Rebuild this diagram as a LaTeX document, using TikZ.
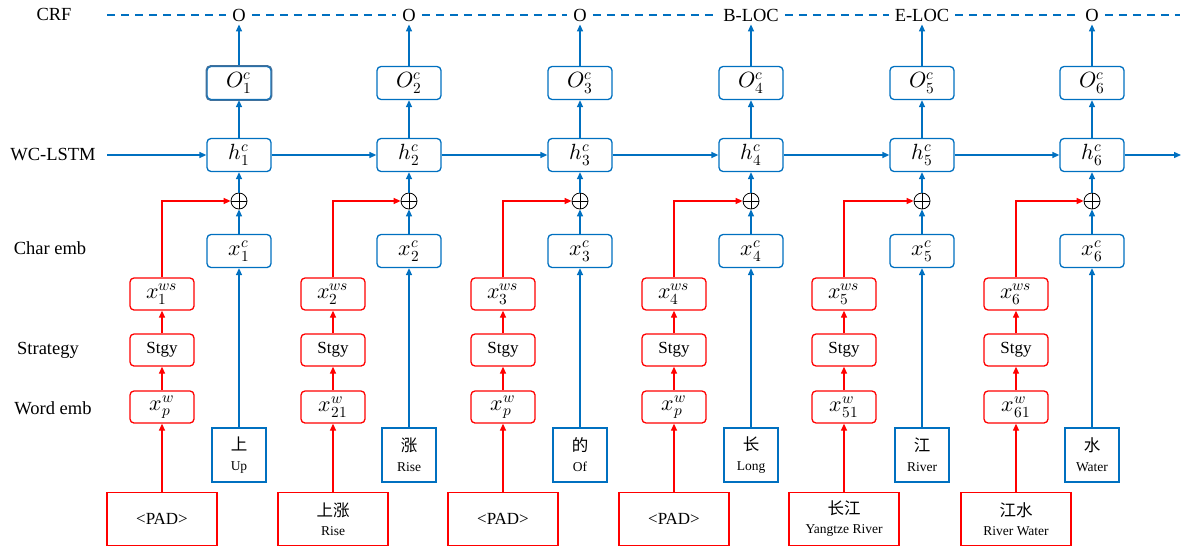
\documentclass[tikz,border=0pt]{standalone}
\usepackage{fontspec}
\usepackage{unicode-math}
\setmainfont{Liberation Serif}
\setmathfont{Latin Modern Math}
\newfontfamily\cjkfont{Noto Sans CJK SC}
\usetikzlibrary{arrows.meta}
\definecolor{cblue}{HTML}{0070C0}
\definecolor{cred}{HTML}{FF0000}
\definecolor{cgb}{HTML}{41719C}
\newcommand{\mfont}{\fontsize{22}{22}\selectfont}
\newcommand{\lfont}{\fontsize{18.5}{20}\selectfont}
\newcommand{\bfnt}{\fontsize{17}{20}\selectfont}
\newcommand{\sfnt}{\fontsize{13.5}{16}\selectfont}
\newcommand{\cfnt}{\cjkfont\fontsize{16.5}{20}\selectfont}
\begin{document}
\begin{tikzpicture}[x=1pt,y=-1pt,
  bbox/.style={draw=cblue, line width=1.3pt, rounded corners=4pt, minimum width=64pt, minimum height=33pt, inner sep=0pt, font=\mfont},
  rbox/.style={draw=cred, line width=1.3pt, rounded corners=4pt, minimum width=64pt, minimum height=32pt, inner sep=0pt, font=\mfont},
  chbox/.style={draw=cblue, line width=1.3pt, minimum width=54pt, minimum height=54pt, inner sep=0pt, align=center, font=\fontsize{13.5}{20}\selectfont},
  padbox/.style={draw=cred, line width=1.3pt, minimum width=110pt, minimum height=53pt, inner sep=0pt, align=center, font=\fontsize{13.5}{19}\selectfont},
  barr/.style={draw=cblue, line width=1.3pt, -{Triangle[length=7pt,width=6pt]}},
  rarr/.style={draw=cred, line width=1.3pt, -{Triangle[length=7pt,width=6pt]}},
  lab/.style={font=\lfont, inner sep=0pt},
  crflab/.style={font=\lfont, inner xsep=6pt, inner ysep=3pt},
  opl/.style={circle, draw=black, line width=0.8pt, minimum size=16pt, inner sep=0pt,
    path picture={\draw[line width=0.8pt] (path picture bounding box.north) -- (path picture bounding box.south)
      (path picture bounding box.west) -- (path picture bounding box.east);}},
  dashl/.style={draw=cblue, line width=1.3pt, dash pattern=on 8pt off 6pt},
]
\useasboundingbox (0,0) rectangle (1186,549);

% left labels
\node[lab] (lcrf) at (54,14) {CRF};
\node[lab] (llstm) at (53,155) {WC-LSTM};
\node[lab] (lchar) at (50,248) {Char emb};
\node[lab] (lstg) at (48,350) {Strategy};
\node[lab] (lword) at (53,408) {Word emb};

\foreach \i/\bx/\rx/\tag/\ch/\en/\ws/\padtext in {
  1/239/162/O/上/Up/p/{\bfnt <PAD>},
  2/409/333/O/涨/Rise/21/{{\cfnt 上涨}\\{\sfnt Rise}},
  3/580/503/O/的/Of/p/{\bfnt <PAD>},
  4/751/674/B-LOC/长/Long/p/{\bfnt <PAD>},
  5/922/844/E-LOC/江/River/51/{{\cfnt 长江}\\{\sfnt Yangtze River}},
  6/1092/1016/O/水/Water/61/{{\cfnt 江水}\\{\sfnt River Water}}}{
  \node[crflab] (crf\i) at (\bx,15) {\tag};
  \node[bbox] (o\i) at (\bx,83) {$O^{c}_{\i}$};
  \node[bbox] (h\i) at (\bx,155) {$h^{c}_{\i}$};
  \node[opl] (op\i) at (\bx,201) {};
  \node[bbox] (xc\i) at (\bx,251) {$x^{c}_{\i}$};
  \node[chbox] (ch\i) at (\bx,455) {{\cfnt \ch}\\{\sfnt \en}};
  \node[rbox] (ws\i) at (\rx,294) {$x^{ws}_{\i}$};
  \node[rbox, font=\bfnt] (st\i) at (\rx,350) {Stgy};
  \node[rbox] (w\i) at (\rx,407) {$x^{w}_{\ws}$};
  \node[padbox] (pad\i) at (\rx,519) {\padtext};
  \draw[barr] (o\i.north) -- (crf\i.south);
  \draw[barr] (h\i.north) -- (o\i.south);
  \draw[barr] (op\i.north) -- (h\i.south);
  \draw[barr] (xc\i.north) -- (op\i.south);
  \draw[barr] (ch\i.north) -- (xc\i.south);
  \draw[rarr] (pad\i.north) -- (w\i.south);
  \draw[rarr] (w\i.north) -- (st\i.south);
  \draw[rarr] (st\i.north) -- (ws\i.south);
  \draw[rarr] (ws\i.north) |- (op\i.west);
}
% first output box has a greyer border
\draw[cgb, line width=1.3pt, rounded corners=4pt] (o1.south west) rectangle (o1.north east);

% CRF dashed line
\coordinate (cs) at (107,15);
\coordinate (ce) at (1180,15);
\draw[dashl] (cs) -- (crf1.west);
\draw[dashl] (crf1.east) -- (crf2.west);
\draw[dashl] (crf2.east) -- (crf3.west);
\draw[dashl] (crf3.east) -- (crf4.west);
\draw[dashl] (crf4.east) -- (crf5.west);
\draw[dashl] (crf5.east) -- (crf6.west);
\draw[dashl] (crf6.east) -- (ce);

% WC-LSTM chain
\coordinate (ls) at (107,155);
\coordinate (le) at (1181,155);
\draw[barr] (ls) -- (h1.west);
\draw[barr] (h1.east) -- (h2.west);
\draw[barr] (h2.east) -- (h3.west);
\draw[barr] (h3.east) -- (h4.west);
\draw[barr] (h4.east) -- (h5.west);
\draw[barr] (h5.east) -- (h6.west);
\draw[barr] (h6.east) -- (le);
\end{tikzpicture}
\end{document}
